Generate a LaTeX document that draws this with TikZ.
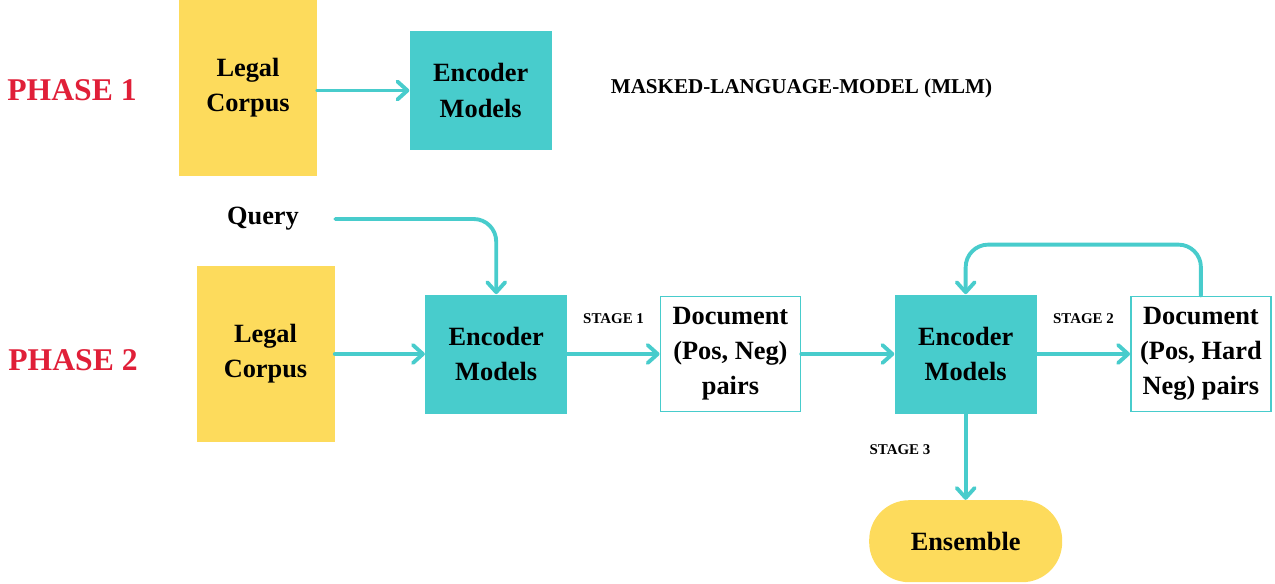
\documentclass[tikz,border=0pt]{standalone}
\usepackage{fontspec}
\setmainfont{Liberation Serif}
\usetikzlibrary{arrows.meta, positioning}
\definecolor{phasered}{HTML}{E01F38}
\definecolor{corpusyellow}{HTML}{FDDB5C}
\definecolor{encteal}{HTML}{48CCCC}

\begin{document}
\begin{tikzpicture}[
        node distance=1.8cm,
        phase/.style={text=phasered, font=\bfseries\fontsize{18}{22}\selectfont},
        corpus/.style={rectangle, minimum width=2.76cm, minimum height=3.52cm, text centered, fill=corpusyellow, align=center, font=\bfseries\fontsize{15}{20}\selectfont},
        encoder/.style={rectangle, minimum width=2.84cm, minimum height=2.38cm, text centered, fill=encteal, align=center, font=\bfseries\fontsize{15}{20}\selectfont},
        docbox/.style={rectangle, minimum width=2.8cm, minimum height=2.3cm, text centered, draw=encteal, line width=1pt, fill=white, align=center, font=\bfseries\fontsize{15}{20}\selectfont},
        ensemble/.style={rectangle, rounded corners=0.8cm, minimum width=3.86cm, minimum height=1.64cm, fill=corpusyellow, font=\bfseries\fontsize{15}{20}\selectfont},
        plain/.style={font=\bfseries\fontsize{15}{20}\selectfont},
        stage/.style={font=\bfseries\fontsize{8.5}{10}\selectfont},
        arrow/.style={draw=encteal, line width=2.2pt, line cap=round, -{Straight Barb[length=2mm,width=3.6mm,round]}}
    ]
        \useasboundingbox (0,0) rectangle (25.5,-11.66);

        % Phase 1: MLM pre-training
        \node (phaseone) [phase] at (1.44,-1.8) {PHASE 1};
        \node (legalone) [corpus] at (4.96,-1.76) {Legal\\Corpus};
        \node (encone) [encoder, right=1.84cm of legalone, yshift=-0.05cm] {Encoder\\Models};
        \node (mlm) [font=\bfseries\fontsize{12}{14}\selectfont] at (16.03,-1.76) {MASKED-LANGUAGE-MODEL (MLM)};

        % Phase 2: stages
        \node (phasetwo) [phase] at (1.46,-7.2) {PHASE 2};
        \node (query) [plain, minimum width=2.88cm] at (5.26,-4.38) {Query};
        \node (legaltwo) [corpus] at (5.31,-7.08) {Legal\\Corpus};
        \node (enctwo) [encoder, right=1.8cm of legaltwo] {Encoder\\Models};
        \node (docone) [docbox, right=1.84cm of enctwo] {Document\\(Pos, Neg)\\pairs};
        \node (encthree) [encoder, right=1.86cm of docone] {Encoder\\Models};
        \node (doctwo) [docbox, right=1.86cm of encthree] {Document\\(Pos, Hard\\Neg) pairs};
        \node (ens) [ensemble, below=1.72cm of encthree] {Ensemble};

        % Arrows of phase 1
        \draw [arrow] (legalone.east |- encone.west) -- (encone.west);

        % Arrows of phase 2
        \draw [arrow, rounded corners=0.45cm] (query.east) -| (enctwo.north);
        \draw [arrow] (legaltwo.east) -- (enctwo.west);
        \draw [arrow] (enctwo.east) -- node (stageone) [stage, midway, above=0.45cm] {STAGE 1} (docone.west);
        \draw [arrow] (docone.east) -- (encthree.west);
        \draw [arrow] (encthree.east) -- node (stagetwo) [stage, midway, above=0.45cm] {STAGE 2} (doctwo.west);
        \draw [arrow, rounded corners=0.45cm] (doctwo.north) -- ++(0,1.02) -| (encthree.north);
        \draw [arrow] (encthree.south) -- node (stagethree) [stage, pos=0.42, left=0.55cm] {STAGE 3} (ens.north);

    \end{tikzpicture}
\end{document}
